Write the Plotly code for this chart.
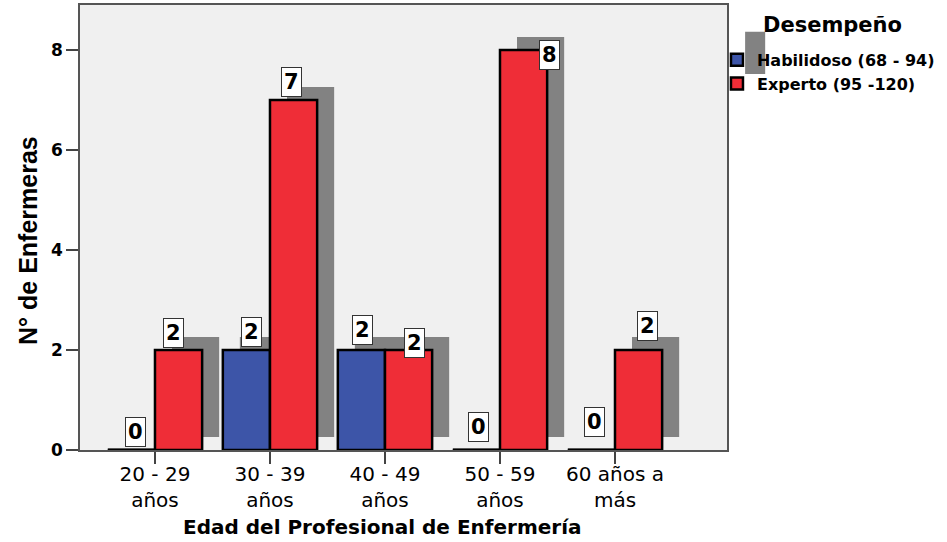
import plotly.graph_objects as go

# Age groups and counts of nurses by performance level
categorias = ["20 - 29<br>años", "30 - 39<br>años", "40 - 49<br>años", "50 - 59<br>años", "60 años a<br>más"]
habilidoso = [0, 2, 2, 0, 0]
experto = [2, 7, 2, 8, 2]
y_ticks = [0, 2, 4, 6, 8]

# Pixel nudges for the value boxes (blue, red) so they do not collide
dx_hab = [4, 5, 1, 2, 3]
dy_hab = [3, 3, 5, 8, 13]
dx_exp = [-5, -2, 6, 26, 9]
dy_exp = [2, 3, -8, -20, 9]

AZUL = "#3d55a8"
ROJO = "#ef2d37"
SOMBRA = "#828282"
FONDO = "#f0f0f0"
ARIAL = "Liberation Sans, Arial, sans-serif"
ANCHA = "DejaVu Sans, Verdana, sans-serif"

W = 0.41          # bar width (category units)
SX = 0.148        # drop-shadow horizontal shift
SY = 0.26         # drop-shadow vertical shift

x = list(range(len(categorias)))
fig = go.Figure()

# drop shadows behind the bars
for vals, off in ((habilidoso, -W), (experto, 0.0)):
    fig.add_trace(go.Bar(
        x=x, y=vals, base=[SY] * len(vals), offset=off + SX, width=W,
        marker=dict(color=SOMBRA, line=dict(width=0)),
        showlegend=False, hoverinfo="skip"))

fig.add_trace(go.Bar(
    x=x, y=habilidoso, offset=-W, width=W, name="Habilidoso (68 - 94)",
    marker=dict(color=AZUL, line=dict(color="black", width=2.5))))
fig.add_trace(go.Bar(
    x=x, y=experto, offset=0.0, width=W, name="Experto (95 -120)",
    marker=dict(color=ROJO, line=dict(color="black", width=2.5))))

# zero-height bars are drawn as a thick line on the baseline
for vals, off in ((habilidoso, -W), (experto, 0.0)):
    for i, v in enumerate(vals):
        if v == 0:
            fig.add_trace(go.Scatter(
                x=[i + off, i + off + W], y=[0, 0], mode="lines",
                line=dict(color="black", width=3),
                showlegend=False, hoverinfo="skip", cliponaxis=False))

# value boxes
for vals, off, dxs, dys in ((habilidoso, -W / 2, dx_hab, dy_hab),
                            (experto, W / 2, dx_exp, dy_exp)):
    for i, v in enumerate(vals):
        fig.add_annotation(
            x=i + off, y=v, text=str(v), showarrow=False,
            xanchor="center", yanchor="bottom", xshift=dxs[i], yshift=dys[i],
            bgcolor="white", bordercolor="#333333", borderwidth=1, borderpad=2,
            font=dict(family=ANCHA, size=21, color="black", weight="bold"))

# y-axis title
fig.add_annotation(
    xref="paper", yref="paper", x=-0.0804, y=0.472, text="N° de Enfermeras",
    textangle=-90, showarrow=False, xanchor="center", yanchor="middle",
    font=dict(family=ARIAL, size=25, color="black", weight="bold"))

# x-axis title
fig.add_annotation(
    xref="paper", yref="paper", x=0.468, y=-0.174, text="Edad del Profesional de Enfermería",
    showarrow=False, xanchor="center", yanchor="middle",
    font=dict(family=ANCHA, size=20, color="black", weight="bold"))

# legend heading
fig.add_annotation(
    xref="paper", yref="paper", x=1.1638, y=0.955, text="Desempeño",
    showarrow=False, xanchor="center", yanchor="middle",
    font=dict(family=ANCHA, size=21, color="black", weight="bold"))

# shadow square behind the legend
fig.add_shape(type="rect", xref="paper", yref="paper",
              x0=1.028, x1=1.059, y0=0.845, y1=0.94,
              fillcolor=SOMBRA, line=dict(width=0), layer="below")

fig.update_layout(
    width=947, height=542,
    margin=dict(l=80, r=220, t=5, b=92),
    paper_bgcolor="white", plot_bgcolor=FONDO,
    barmode="overlay",
    font=dict(family=ANCHA, color="black"),
    legend=dict(
        x=0.9845, xanchor="left", y=0.915, yanchor="top",
        font=dict(family=ANCHA, size=16, weight="bold"),
        bgcolor="rgba(0,0,0,0)", itemwidth=30, tracegroupgap=0),
    xaxis=dict(
        range=[-0.652, 4.974], tickmode="array", tickvals=x, ticktext=categorias,
        ticks="outside", ticklen=12, tickcolor="#444", tickwidth=1.5,
        showline=True, linecolor="#555", linewidth=1.5, mirror=True,
        showgrid=False, zeroline=False, automargin=False,
        ticklabelstandoff=-7,
        tickfont=dict(family=ANCHA, size=20)),
    yaxis=dict(
        range=[0, 8.9], tickmode="array", tickvals=y_ticks,
        ticks="outside", ticklen=12, tickcolor="#444", tickwidth=1.5,
        showline=True, linecolor="#555", linewidth=1.5, mirror=True,
        showgrid=False, zeroline=False, automargin=False,
        tickfont=dict(family=ANCHA, size=17, weight="bold")),
)

fig.write_html("out.html")
